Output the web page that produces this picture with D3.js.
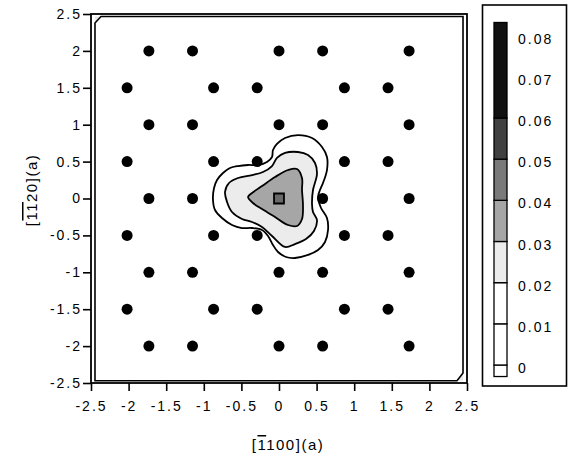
<!DOCTYPE html>
<html>
<head>
<meta charset="utf-8">
<script src="https://cdn.jsdelivr.net/npm/d3@7"></script>
<style>
body { margin: 0; background: #fff; }
svg { font-family: "Liberation Sans", Arial, sans-serif; }
</style>
</head>
<body>
<div id="chart"></div>
<script>
// atom sites (rows of the honeycomb)
const rowYA = [2, 1, 0, -1, -2];
const colXA = [-1.73, -1.15, 0, 0.58, 1.73];
const rowYB = [1.5, 0.5, -0.5, -1.5];
const colXB = [-2.02, -0.87, -0.29, 0.87, 1.45];

const axisTicks = [-2.5, -2, -1.5, -1, -0.5, 0, 0.5, 1, 1.5, 2, 2.5];
const levelTicks = [0, 0.01, 0.02, 0.03, 0.04, 0.05, 0.06, 0.07, 0.08];
const levelBands = [[-0.0028, 0], [0, 0.01], [0.01, 0.02], [0.02, 0.03], [0.03, 0.04], [0.04, 0.05], [0.05, 0.06], [0.06, 0.0832]];

// contour lines, [x, y] in lattice units
const contourEdge = [[-2.447, 2.378], [-2.367, 2.466], [2.447, 2.466], [2.447, -2.364], [2.367, -2.469], [-2.447, -2.469]];
const contour01 = [[0.253, 0.86], [0.08, 0.82], [-0.027, 0.739], [-0.08, 0.657], [-0.093, 0.562], [-0.16, 0.495], [-0.279, 0.454],
	[-0.412, 0.454], [-0.545, 0.44], [-0.652, 0.413], [-0.745, 0.346], [-0.824, 0.251], [-0.864, 0.142], [-0.878, -0.02],
	[-0.851, -0.156], [-0.758, -0.264], [-0.625, -0.359], [-0.492, -0.4], [-0.359, -0.4], [-0.226, -0.427], [-0.146, -0.508],
	[-0.08, -0.63], [-0.013, -0.725], [0.093, -0.793], [0.213, -0.806], [0.386, -0.765], [0.519, -0.698], [0.612, -0.589],
	[0.652, -0.427], [0.638, -0.264], [0.559, -0.129], [0.519, 0.02], [0.545, 0.115], [0.585, 0.21], [0.638, 0.386],
	[0.638, 0.562], [0.572, 0.698], [0.439, 0.82]];
const contour02 = [[0.253, 0.63], [0.08, 0.617], [-0.027, 0.549], [-0.093, 0.44], [-0.213, 0.359], [-0.359, 0.318], [-0.545, 0.278],
	[-0.665, 0.21], [-0.718, 0.088], [-0.691, -0.047], [-0.625, -0.183], [-0.492, -0.278], [-0.359, -0.318], [-0.226, -0.386],
	[-0.093, -0.508], [0.08, -0.657], [0.213, -0.617], [0.359, -0.549], [0.465, -0.44], [0.505, -0.291], [0.452, -0.183],
	[0.439, -0.075], [0.452, 0.115], [0.505, 0.332], [0.479, 0.481], [0.386, 0.589]];
const contour03 = [[0.239, 0.4], [0.12, 0.386], [-0.053, 0.291], [-0.226, 0.169], [-0.359, 0.075], [-0.412, 0.02], [-0.346, -0.061],
	[-0.226, -0.142], [-0.053, -0.251], [0.12, -0.359], [0.239, -0.373], [0.306, -0.278], [0.319, -0.088], [0.306, 0.115],
	[0.306, 0.278]];
const contour04 = [[-0.066, 0.068], [0.066, 0.068], [0.066, -0.068], [-0.066, -0.068]];

const width = 572, height = 457;
const margin = { top: 14, right: 105, bottom: 74, left: 91 };
const plotW = width - margin.left - margin.right,
	plotH = height - margin.top - margin.bottom;

let svg = d3.select("#chart").append("svg")
	.attr("width", width)
	.attr("height", height);

let x = d3.scaleLinear().domain([-2.5, 2.5]).range([margin.left, margin.left + plotW]);
let y = d3.scaleLinear().domain([-2.5, 2.5]).range([margin.top + plotH, margin.top]);

// grey levels of the key
let shade = d3.scaleThreshold()
	.domain([0.02, 0.03, 0.04, 0.05, 0.06])
	.range(["#ffffff", "#ececec", "#a6a6a6", "#7a7a7a", "#404040", "#111111"]);

let smooth = d3.line().x(d => x(d[0])).y(d => y(d[1])).curve(d3.curveCatmullRomClosed.alpha(0.5));
let poly = d3.line().x(d => x(d[0])).y(d => y(d[1])).curve(d3.curveLinearClosed);

// edge contour with its shaded corners
svg.append("path")
	.attr("d", poly([contourEdge[0], contourEdge[1], [-2.447, 2.466]]))
	.attr("fill", "#e8e8e8");
svg.append("path")
	.attr("d", poly([contourEdge[3], contourEdge[4], [2.447, -2.469]]))
	.attr("fill", "#e8e8e8");
svg.append("path")
	.attr("d", poly(contourEdge))
	.attr("fill", "none")
	.attr("stroke", "#000")
	.attr("stroke-width", 1.6);

// nested contours, outer to inner
[[contour01, 0.01], [contour02, 0.02], [contour03, 0.03]].forEach(c => {
	svg.append("path")
		.attr("d", smooth(c[0]))
		.attr("fill", shade(c[1]))
		.attr("stroke", "#000")
		.attr("stroke-width", 1.8);
});
svg.append("path")
	.attr("d", poly(contour04))
	.attr("fill", "#6a6a6a")
	.attr("stroke", "#000")
	.attr("stroke-width", 1.8);

// atom sites, the origin holds the peak
let sites = [];
rowYA.forEach(r => colXA.forEach(c => { if (!(r === 0 && c === 0)) sites.push([c, r]); }));
rowYB.forEach(r => colXB.forEach(c => sites.push([c, r])));

svg.append("g")
	.selectAll("circle")
	.data(sites)
	.join("circle")
	.attr("cx", d => x(d[0]))
	.attr("cy", d => y(d[1]))
	.attr("r", 5.5)
	.attr("fill", "#000");

// frame
svg.append("rect")
	.attr("x", margin.left)
	.attr("y", margin.top)
	.attr("width", plotW)
	.attr("height", plotH)
	.attr("fill", "none")
	.attr("stroke", "#000")
	.attr("stroke-width", 1.8);

// axes
let fmt = d => String(d);
let xAxis = svg.append("g")
	.attr("transform", "translate(0," + (margin.top + plotH) + ")")
	.call(d3.axisBottom(x).tickValues(axisTicks).tickFormat(fmt).tickSize(8).tickSizeOuter(0).tickPadding(10));
let yAxis = svg.append("g")
	.attr("transform", "translate(" + margin.left + ",0)")
	.call(d3.axisLeft(y).tickValues(axisTicks).tickFormat(fmt).tickSize(8).tickSizeOuter(0).tickPadding(1));

[xAxis, yAxis].forEach(a => {
	a.select(".domain").remove();
	a.selectAll("line").attr("stroke", "#000").attr("stroke-width", 1.6);
	a.selectAll("text")
		.attr("fill", "#000")
		.style("font-size", "14px")
		.style("letter-spacing", "2px")
		.style("font-family", "'Liberation Sans', Arial, sans-serif");
});

// axis titles
let xt = svg.append("text")
	.attr("x", 288)
	.attr("y", 450)
	.attr("text-anchor", "middle")
	.style("font-size", "15px")
	.style("letter-spacing", "1.5px");
xt.append("tspan").text("[");
xt.append("tspan").style("text-decoration", "overline").text("1");
xt.append("tspan").text("100](a)");

let yt = svg.append("text")
	.attr("transform", "translate(37,190) rotate(-90)")
	.attr("text-anchor", "middle")
	.style("font-size", "15px")
	.style("letter-spacing", "1.5px");
yt.append("tspan").text("[");
yt.append("tspan").style("text-decoration", "overline").text("11");
yt.append("tspan").text("20](a)");

// key
let kv = d3.scaleLinear().domain([0, 0.06]).range([365, 118]);

svg.append("rect")
	.attr("x", 482.5)
	.attr("y", 5)
	.attr("width", 84)
	.attr("height", 381)
	.attr("fill", "none")
	.attr("stroke", "#000")
	.attr("stroke-width", 1.6);

svg.append("g")
	.selectAll("rect")
	.data(levelBands)
	.join("rect")
	.attr("x", 494)
	.attr("width", 13)
	.attr("y", d => kv(d[1]))
	.attr("height", d => kv(d[0]) - kv(d[1]))
	.attr("fill", d => shade(d[0]))
	.attr("stroke", "#000")
	.attr("stroke-width", 1.3);

svg.append("g")
	.selectAll("text")
	.data(levelTicks)
	.join("text")
	.attr("x", 518)
	.attr("y", d => kv(d) + 3)
	.attr("dy", "0.36em")
	.style("font-size", "14px")
	.style("letter-spacing", "2px")
	.text(fmt);
</script>
</body>
</html>
